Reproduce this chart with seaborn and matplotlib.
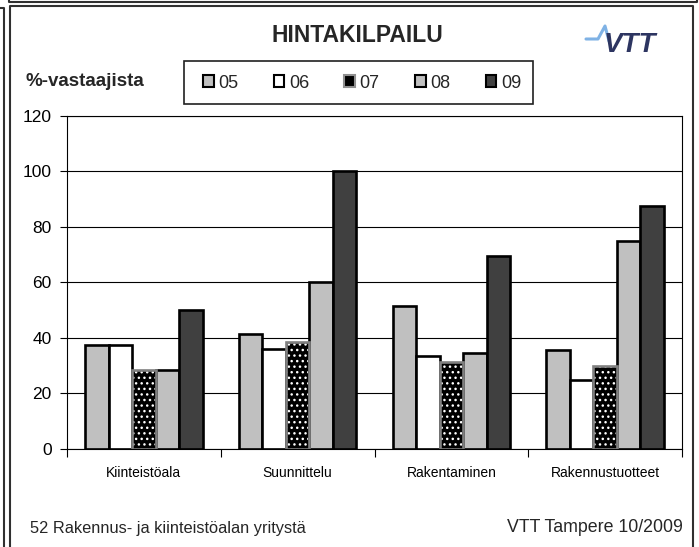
import numpy as np
import pandas as pd
import matplotlib.pyplot as plt
import seaborn as sns
from matplotlib.patches import Rectangle, Patch
from matplotlib.lines import Line2D

# Data (% of respondents)
categories = ["Kiinteistöala", "Suunnittelu", "Rakentaminen", "Rakennustuotteet"]
years = ["05", "06", "07", "08", "09"]
v05 = [37.5, 41.5, 51.5, 35.5]
v06 = [37.5, 36.0, 33.5, 25.0]
v07 = [28.5, 38.5, 31.5, 30.0]
v08 = [28.5, 60.0, 34.5, 75.0]
v09 = [50.0, 100.0, 69.5, 87.5]
yticks = [0, 20, 40, 60, 80, 100, 120]

colors = ["#C0C0C0", "#FFFFFF", "#000000", "#C0C0C0", "#404040"]

df = pd.DataFrame({
    "ala": categories * len(years),
    "vuosi": np.repeat(years, len(categories)),
    "osuus": v05 + v06 + v07 + v08 + v09,
})

sns.set_theme(style="white")
plt.rcParams['font.family'] = ['Liberation Sans', 'DejaVu Sans']

W, H = 699, 547
fig = plt.figure(figsize=(W / 100, H / 100), dpi=100)
fig.patch.set_facecolor("white")

ax = fig.add_axes([67 / W, 1 - 449 / H, (682 - 67) / W, (449 - 115.7) / H])
sns.barplot(data=df, x="ala", y="osuus", hue="vuosi", palette=dict(zip(years, colors)),
            width=0.765, saturation=1, edgecolor="black", linewidth=1.9,
            legend=False, ax=ax)

# 07 bars: black with white dots, grey outline
for bar in ax.containers[2]:
    bar.set_edgecolor("white")
    bar.set_hatch("...")
    bar.set_linewidth(0)
    ax.add_patch(Rectangle(bar.get_xy(), bar.get_width(), bar.get_height(),
                           fill=False, edgecolor="#808080", lw=1.9, zorder=bar.get_zorder() + 0.1))

ax.set_axisbelow(True)
ax.yaxis.grid(True, color="black", lw=0.8)
ax.xaxis.grid(False)
ax.set_ylim(0, 120)
ax.set_yticks(yticks)
ax.tick_params(axis="y", direction="out", length=5, width=0.8, labelsize=12.5, pad=6,
               left=True, colors="black")
ax.set_xlim(-0.5, 3.5)
ax.set_xticks([-0.5, 0.5, 1.5, 2.5, 3.5], labels=[""] * 5)
ax.set_xticks(range(len(categories)), labels=categories, minor=True)
ax.tick_params(axis="x", which="major", direction="out", length=6, width=0.8, bottom=True, colors="black")
ax.tick_params(axis="x", which="minor", length=0, labelsize=10, pad=12, labelcolor="black")
ax.set_xlabel("")
ax.set_ylabel("")
for s in ax.spines.values():
    s.set_color("black")
    s.set_linewidth(0.8)

# texts
fig.text(357.5 / W, 1 - 35 / H, "HINTAKILPAILU", ha="center", va="center",
         fontsize=16.5, fontweight="bold")
fig.text(25 / W, 1 - 82 / H, "%-vastaajista", ha="left", va="center",
         fontsize=13.5, fontweight="bold")
fig.text(30 / W, 1 - 528 / H, "52 Rakennus- ja kiinteistöalan yritystä", ha="left",
         va="center", fontsize=11.8)
fig.text(683 / W, 1 - 528 / H, "VTT Tampere 10/2009", ha="right", va="center", fontsize=12.8)

# legend
handles = [Patch(facecolor=c, edgecolor="black", lw=1.5) for c in colors]
handles[2] = Patch(facecolor="black", edgecolor="#909090", lw=1.5)
fig.legend(handles, years, loc="center", bbox_to_anchor=(362 / W, 1 - 83 / H), ncol=5,
           frameon=False, fontsize=13, handlelength=0.6, handleheight=0.6,
           handletextpad=0.25, columnspacing=1.95, borderaxespad=0)
fig.add_artist(Rectangle((184 / W, 1 - 104 / H), 349 / W, 43 / H, transform=fig.transFigure,
                         fill=False, ec="#202020", lw=1.2))

# logo
def fline(xs, ys, **kw):
    fig.add_artist(Line2D([x / W for x in xs], [1 - y / H for y in ys],
                          transform=fig.transFigure, **kw))

fline([586, 598, 605, 609], [39, 39, 26, 41], color="#7FB2E5", lw=2.2)
fig.text(604 / W, 1 - 45 / H, "VTT", ha="left", va="center", fontsize=20,
         fontweight="bold", fontstyle="italic", color="#2D3561")

# frame lines
fc = "#303030"
fline([0, 4, 4], [8, 8, 547], color=fc, lw=1.5)
fline([10, 10, 693, 693], [547, 6, 6, 547], color=fc, lw=1.5)
fline([9, 9, 697, 697], [0, 1.5, 1.5, 0], color=fc, lw=1.5)

fig.savefig("out.png", dpi=100)
